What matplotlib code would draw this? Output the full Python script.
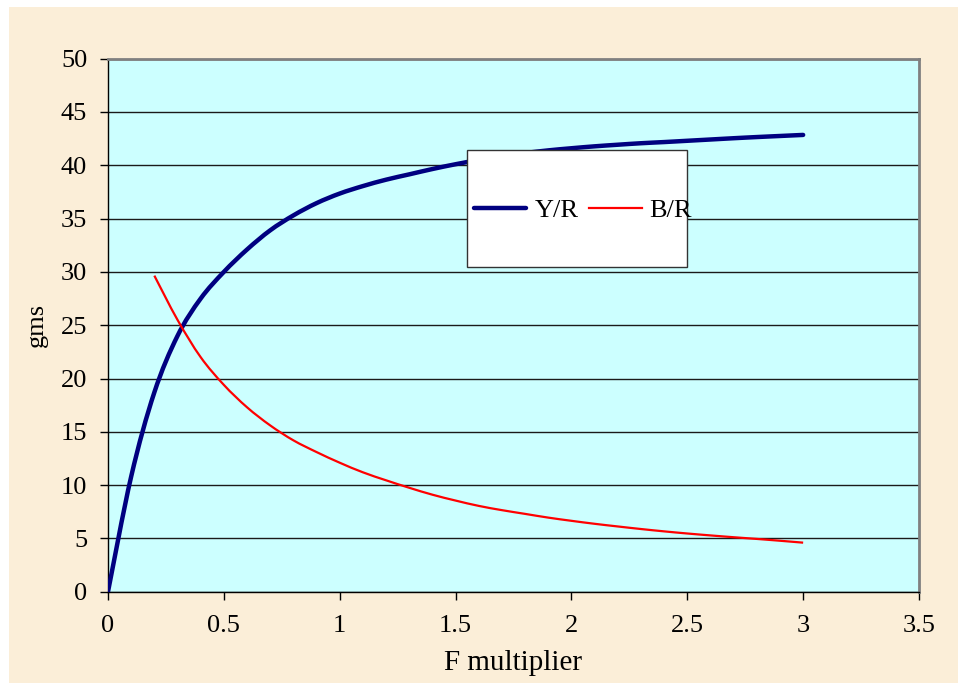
import matplotlib.pyplot as plt
from matplotlib.patches import Rectangle, PathPatch
from matplotlib.path import Path
from matplotlib.lines import Line2D

# F multiplier values (x) and the two series (gms)
x_yr = [0, 0.1, 0.2, 0.3, 0.4, 0.5, 0.6, 0.7, 0.8, 0.9, 1.0,
        1.1, 1.2, 1.3, 1.4, 1.5, 1.6, 1.7, 1.8, 1.9, 2.0,
        2.1, 2.2, 2.3, 2.4, 2.5, 2.6, 2.7, 2.8, 2.9, 3.0]
y_r = [0, 10.8, 18.7, 24.0, 27.5, 30.0, 32.1, 33.9, 35.3, 36.45, 37.35,
       38.05, 38.65, 39.15, 39.65, 40.1, 40.5, 40.85, 41.15, 41.4, 41.6,
       41.78, 41.93, 42.07, 42.18, 42.3, 42.42, 42.54, 42.65, 42.75, 42.85]

x_br = [0.2, 0.3, 0.4, 0.5, 0.6, 0.7, 0.8, 0.9, 1.0,
        1.1, 1.2, 1.3, 1.4, 1.5, 1.6, 1.7, 1.8, 1.9, 2.0,
        2.1, 2.2, 2.3, 2.4, 2.5, 2.6, 2.7, 2.8, 2.9, 3.0]
b_r = [29.65, 25.5, 22.0, 19.4, 17.3, 15.6, 14.2, 13.1, 12.1,
       11.2, 10.45, 9.75, 9.1, 8.55, 8.05, 7.65, 7.3, 6.95, 6.65,
       6.37, 6.12, 5.88, 5.66, 5.46, 5.28, 5.11, 4.95, 4.78, 4.6]

xticks = [0, 0.5, 1, 1.5, 2, 2.5, 3, 3.5]
xtick_labels = ['0', '0.5', '1', '1.5', '2', '2.5', '3', '3.5']
yticks = list(range(0, 51, 5))


def smooth_path(xs, ys):
    # Catmull-Rom style bezier through the points (like a "smoothed line")
    pts = list(zip(xs, ys))
    n = len(pts)
    verts = [pts[0]]
    codes = [Path.MOVETO]
    for i in range(n - 1):
        p0 = pts[i - 1] if i > 0 else pts[i]
        p1 = pts[i]
        p2 = pts[i + 1]
        p3 = pts[i + 2] if i + 2 < n else pts[i + 1]
        c1 = (p1[0] + (p2[0] - p0[0]) / 6, p1[1] + (p2[1] - p0[1]) / 6)
        c2 = (p2[0] - (p3[0] - p1[0]) / 6, p2[1] - (p3[1] - p1[1]) / 6)
        verts += [c1, c2, p2]
        codes += [Path.CURVE4] * 3
    return Path(verts, codes)


plt.rcParams['font.family'] = ['Liberation Serif', 'DejaVu Serif']

fig = plt.figure(figsize=(9.58, 6.83), dpi=100, facecolor='white')
# beige background panel
bg = Rectangle((9 / 958, 0), 1 - 9 / 958, 1 - 7 / 683,
               transform=fig.transFigure, facecolor='#fbeed8',
               edgecolor='none', zorder=-10)
fig.add_artist(bg)

ax = fig.add_axes([108 / 958, 1 - 591.7 / 683, (919 - 108) / 958, (591.7 - 58.7) / 683])
ax.set_facecolor('#ccffff')

yr_patch = PathPatch(smooth_path(x_yr, y_r), fill=False, edgecolor='#000080',
                     lw=3.2, capstyle='round', joinstyle='round', zorder=3)
br_patch = PathPatch(smooth_path(x_br, b_r), fill=False, edgecolor='red',
                     lw=1.6, capstyle='butt', joinstyle='round', zorder=3)
ax.add_patch(yr_patch)
ax.add_patch(br_patch)

ax.set_xlim(0, 3.5)
ax.set_ylim(0, 50)
ax.set_xticks(xticks)
ax.set_xticklabels(xtick_labels)
ax.set_yticks(yticks)
ax.yaxis.grid(True, color='#1a1a1a', lw=1)
ax.set_axisbelow(True)
ax.tick_params(direction='out', length=6, width=1, labelsize=19, colors='black')
ax.tick_params(axis='x', pad=11)
ax.tick_params(axis='y', pad=9)

for s in ['left', 'bottom']:
    ax.spines[s].set_color('black')
    ax.spines[s].set_linewidth(1)
for s in ['top', 'right']:
    ax.spines[s].set_color('#808080')
    ax.spines[s].set_linewidth(2)

ax.set_xlabel('F multiplier', fontsize=21, labelpad=9)
ax.set_ylabel('gms', fontsize=19, labelpad=9)

# legend box
lx, ly, lw_, lh = 0.443, 0.609, 0.271, 0.219
ax.add_patch(Rectangle((lx, ly), lw_, lh, transform=ax.transAxes,
                       facecolor='white', edgecolor='#333333', lw=1, zorder=4))
handles = [Line2D([], [], color='#000080', lw=3.2, solid_capstyle='round'),
           Line2D([], [], color='red', lw=1.6)]
leg = ax.legend(handles, ['Y/R', 'B/R'], loc='center',
                bbox_to_anchor=(0.5855, 0.715), ncol=2, frameon=False,
                fontsize=19, handlelength=2.0, handletextpad=0.3,
                columnspacing=0.4, borderpad=0)
leg.set_zorder(5)

fig.savefig('out.png', dpi=100, facecolor=fig.get_facecolor())
